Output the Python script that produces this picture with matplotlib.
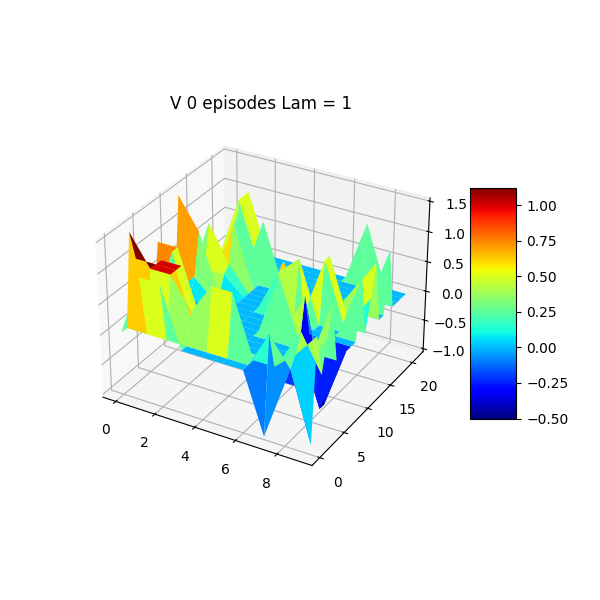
import numpy as np
import matplotlib
matplotlib.use("Agg")
import matplotlib.pyplot as plt

x_states = list(range(10))
y_states = list(range(22))

#          y: 0    1    2    3    4    5    6    7    8    9   10   11   12   13   14   15   16   17   18   19   20   21
v_x0 = [0.0, 0.0, 1.5, 1.0, 0.0, 0.0, 0.0, 1.0, 0.0, 0.0, 0.0, 1.5, 0.0, 0.0, 0.0, 0.0, 0.0, 0.0, 0.0, 0.0, 0.0, 0.0]
v_x1 = [1.0, 0.0, 1.0, 1.0, 1.0, 0.0, 1.0, 1.0, 0.0, 0.0, 0.3, 1.0, 0.3, 1.0, 0.0, 0.0, 0.0, 0.0, 0.0, 1.0, 1.0, 1.0]
v_x2 = [1.0, 0.0, 1.0, 1.0, 1.0, 0.0, 0.0, 0.0, 0.0, 0.0, 0.0, 0.0, 0.3, 0.4, 1.0, 0.0, 0.0, 0.0, 0.0, 0.0, 0.0, 0.0]
v_x3 = [0.0, 0.0, 0.5, 0.0, 0.0, 0.0, 0.0, 0.0, 0.0, 0.0, 0.0, 0.0, 0.0, 0.0, 0.0, 0.0, 1.0, 0.0, 0.0, 0.0, 0.0, 0.0]
v_x4 = [0.0, 0.0, 1.0, 0.0, 0.0, 0.0, 0.0, 0.0, 0.0, 0.0, 0.0, 0.0, 0.0, 0.0, 0.0, 0.0, 0.0, 0.0, 0.0, 0.0, 0.0, 0.0]
v_x5 = [0.0, 0.0, 1.0, 0.0, 0.0, 0.0, 0.0, 0.0, 0.0, 0.0, 0.0, 0.7, 0.8, 0.0, 0.0, 0.0, 0.0, 0.0, 0.0, 0.0, 0.0, 0.0]
v_x6 = [0.0, 0.0, 0.0, 0.0, 0.0, 0.0, 0.0, 1.0, 0.0, 0.0, 0.0, 1.0, 0.0, 0.0, 0.0, 0.0, 0.0, 0.0, 0.0, 0.0, 0.0, 0.0]
v_x7 = [-1.0, 0.6, 0.0, 0.0, 0.0, 0.0, 0.0, 0.0, 0.7, 0.0, 0.0, 0.0, 1.0, 1.0, 0.0, 0.0, 0.0, 0.0, 0.0, 0.0, 0.0, 1.0]
v_x8 = [0.0, 0.15, 0.3, 0.6, 0.0, 0.0, 0.0, -1.0, -1.0, 0.0, 0.0, 0.0, 0.0, 0.0, 0.5, 0.0, 0.0, 0.0, 0.0, 0.0, 0.0, 0.0]
v_x9 = [0.0, -1.0, 0.7, 0.0, 0.5, 1.0, 0.0, 0.0, 0.0, 0.0, 0.0, 1.0, 0.0, 0.5, 1.0, 0.0, 0.0, 1.0, 0.0, 0.0, 0.0, 0.0]

V = np.array([v_x0, v_x1, v_x2, v_x3, v_x4, v_x5, v_x6, v_x7, v_x8, v_x9])
X, Y = np.meshgrid(x_states, y_states, indexing="ij")

fig = plt.figure(figsize=(6, 6), dpi=100)
ax = fig.add_subplot(111, projection="3d")
surf = ax.plot_surface(X, Y, V, cmap="jet", linewidth=0, vmin=-0.5, vmax=1.125)
ax.set_title("V 0 episodes Lam = 1")
fig.colorbar(surf, shrink=0.5, aspect=5)
fig.savefig("out.png", dpi=100)
